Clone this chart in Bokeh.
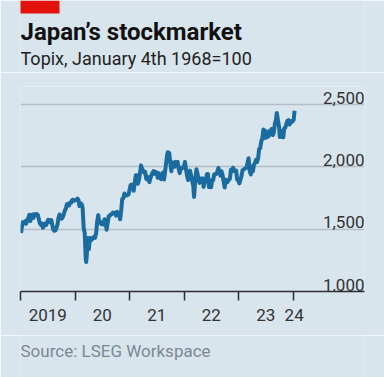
import numpy as np
import pandas as pd
from bokeh.plotting import figure
from bokeh.layouts import column
from bokeh.models import FixedTicker, CustomJSTickFormatter, Range1d
from bokeh.core.properties import value
from bokeh.embed import file_html
from bokeh.resources import INLINE

dates = [
    "2019-01-04", "2019-01-11", "2019-01-18", "2019-01-25", "2019-02-01", "2019-02-08", "2019-02-15", "2019-02-22",
    "2019-03-01", "2019-03-08", "2019-03-15", "2019-03-22", "2019-03-29", "2019-04-05", "2019-04-12", "2019-04-19",
    "2019-04-26", "2019-05-10", "2019-05-17", "2019-05-24", "2019-05-31", "2019-06-07", "2019-06-14", "2019-06-21",
    "2019-06-28", "2019-07-05", "2019-07-12", "2019-07-19", "2019-07-26", "2019-08-02", "2019-08-09", "2019-08-16",
    "2019-08-23", "2019-08-30", "2019-09-06", "2019-09-13", "2019-09-20", "2019-09-27", "2019-10-04", "2019-10-11",
    "2019-10-18", "2019-10-25", "2019-11-01", "2019-11-08", "2019-11-15", "2019-11-22", "2019-11-29", "2019-12-06",
    "2019-12-13", "2019-12-20", "2019-12-27",
    "2020-01-10", "2020-01-17", "2020-01-24", "2020-01-31", "2020-02-07", "2020-02-14", "2020-02-21", "2020-02-28",
    "2020-03-06", "2020-03-13", "2020-03-16", "2020-03-19", "2020-03-27", "2020-04-03", "2020-04-10", "2020-04-17",
    "2020-04-24", "2020-05-01", "2020-05-08", "2020-05-15", "2020-05-22", "2020-05-29", "2020-06-05", "2020-06-12",
    "2020-06-19", "2020-06-26", "2020-07-03", "2020-07-10", "2020-07-17", "2020-07-24", "2020-07-31", "2020-08-07",
    "2020-08-14", "2020-08-21", "2020-08-28", "2020-09-04", "2020-09-11", "2020-09-18", "2020-09-25", "2020-10-02",
    "2020-10-09", "2020-10-16", "2020-10-23", "2020-10-30", "2020-11-06", "2020-11-13", "2020-11-20", "2020-11-27",
    "2020-12-04", "2020-12-11", "2020-12-18", "2020-12-25",
    "2021-01-08", "2021-01-15", "2021-01-22", "2021-01-29", "2021-02-05", "2021-02-12", "2021-02-19", "2021-02-26",
    "2021-03-05", "2021-03-12", "2021-03-19", "2021-03-26", "2021-04-02", "2021-04-09", "2021-04-16", "2021-04-23",
    "2021-04-30", "2021-05-07", "2021-05-14", "2021-05-21", "2021-05-28", "2021-06-04", "2021-06-11", "2021-06-18",
    "2021-06-25", "2021-07-02", "2021-07-09", "2021-07-16", "2021-07-23", "2021-07-30", "2021-08-06", "2021-08-13",
    "2021-08-20", "2021-08-27", "2021-09-03", "2021-09-10", "2021-09-14", "2021-09-24", "2021-10-01", "2021-10-08",
    "2021-10-15", "2021-10-22", "2021-10-29", "2021-11-05", "2021-11-12", "2021-11-19", "2021-11-26", "2021-12-03",
    "2021-12-10", "2021-12-17", "2021-12-24", "2021-12-30",
    "2022-01-07", "2022-01-14", "2022-01-21", "2022-01-28", "2022-02-04", "2022-02-10", "2022-02-18", "2022-02-25",
    "2022-03-04", "2022-03-09", "2022-03-18", "2022-03-25", "2022-04-01", "2022-04-08", "2022-04-15", "2022-04-22",
    "2022-04-28", "2022-05-06", "2022-05-12", "2022-05-20", "2022-05-27", "2022-06-03", "2022-06-10", "2022-06-17",
    "2022-06-24", "2022-07-01", "2022-07-08", "2022-07-15", "2022-07-22", "2022-07-29", "2022-08-05", "2022-08-12",
    "2022-08-19", "2022-08-26", "2022-09-02", "2022-09-09", "2022-09-16", "2022-09-22", "2022-09-30", "2022-10-07",
    "2022-10-14", "2022-10-21", "2022-10-28", "2022-11-04", "2022-11-11", "2022-11-18", "2022-11-25", "2022-12-02",
    "2022-12-09", "2022-12-16", "2022-12-23", "2022-12-30",
    "2023-01-06", "2023-01-13", "2023-01-20", "2023-01-27", "2023-02-03", "2023-02-10", "2023-02-17", "2023-02-24",
    "2023-03-03", "2023-03-09", "2023-03-17", "2023-03-24", "2023-03-31", "2023-04-07", "2023-04-14", "2023-04-21",
    "2023-04-28", "2023-05-05", "2023-05-12", "2023-05-19", "2023-05-26", "2023-06-02", "2023-06-09", "2023-06-16",
    "2023-06-23", "2023-06-30", "2023-07-07", "2023-07-14", "2023-07-21", "2023-07-28", "2023-08-04", "2023-08-11",
    "2023-08-18", "2023-08-25", "2023-09-01", "2023-09-08", "2023-09-14", "2023-09-22", "2023-09-29", "2023-10-04",
    "2023-10-13", "2023-10-20", "2023-10-27", "2023-11-03", "2023-11-10", "2023-11-17", "2023-11-24", "2023-12-01",
    "2023-12-08", "2023-12-15", "2023-12-22", "2023-12-29",
    "2024-01-05", "2024-01-11",
]

topix = [
    1471, 1522, 1557, 1547, 1564, 1545, 1574, 1589,
    1616, 1565, 1602, 1617, 1591, 1621, 1616, 1622,
    1617, 1550, 1535, 1545, 1512, 1526, 1545, 1533,
    1551, 1575, 1574, 1557, 1574, 1533, 1496, 1487,
    1490, 1511, 1540, 1595, 1618, 1600, 1584, 1596,
    1621, 1650, 1666, 1702, 1696, 1690, 1714, 1713,
    1734, 1736, 1728,
    1735, 1745, 1735, 1685, 1708, 1703, 1674, 1511,
    1471, 1261, 1236, 1271, 1430, 1340, 1430, 1410,
    1419, 1432, 1441, 1431, 1470, 1563, 1613, 1553,
    1559, 1541, 1546, 1538, 1580, 1560, 1496, 1546,
    1604, 1606, 1618, 1620, 1634, 1630, 1631, 1609,
    1640, 1617, 1626, 1579, 1649, 1744, 1747, 1786,
    1772, 1770, 1776, 1777,
    1854, 1857, 1856, 1808, 1875, 1932, 1933, 1864,
    1896, 1951, 2012, 1984, 1971, 1954, 1960, 1904,
    1898, 1918, 1877, 1910, 1934, 1954, 1966, 1945,
    1961, 1952, 1913, 1949, 1929, 1901, 1935, 1954,
    1899, 1960, 2033, 2095, 2118, 2110, 2030, 1965,
    2038, 2003, 2001, 2040, 2033, 2040, 1984, 1950,
    1993, 1988, 1996, 1992,
    2040, 1982, 1930, 1895, 1929, 1970, 1925, 1886,
    1844, 1759, 1910, 1981, 1946, 1897, 1872, 1907,
    1899, 1907, 1839, 1883, 1888, 1941, 1943, 1838,
    1872, 1836, 1897, 1893, 1940, 1940, 1942, 1963,
    1991, 1968, 1930, 1965, 1935, 1890, 1835, 1897,
    1876, 1880, 1900, 1904, 1977, 1964, 1993, 1971,
    1964, 1970, 1897, 1892,
    1868, 1895, 1923, 1973, 1977, 1985, 1990, 1995,
    2038, 2069, 1964, 1939, 2003, 1964, 2018, 2030,
    2057, 2040, 2071, 2145, 2149, 2206, 2228, 2300,
    2231, 2289, 2235, 2253, 2245, 2290, 2280, 2304,
    2255, 2275, 2345, 2375, 2432, 2372, 2323, 2240,
    2290, 2240, 2238, 2310, 2314, 2345, 2370, 2375,
    2340, 2351, 2368, 2366,
    2378, 2450,
]

year_ticks = [2019, 2020, 2021, 2022, 2023, 2024]
year_label_pos = [2019.5, 2020.5, 2021.5, 2022.5, 2023.5, 2024.02]
year_labels = ["2019", "20", "21", "22", "23", "24"]
y_ticks = [1000, 1500, 2000, 2500]
y_labels = ["1,000", "1,500", "2,000", "2,500"]

title = "Japan\u2019s stockmarket"
subtitle = "Topix, January 4th 1968=100"
source = "Source: LSEG Workspace"

d = pd.to_datetime(dates)
days_in_year = np.where(d.is_leap_year, 366.0, 365.0)
xfrac = (d.year + (d.dayofyear - 1) / days_in_year).to_numpy(dtype=float)

BG = "#d9e5ed"
FONT = "Roboto"
W = 384
LB, RB = 20, 20
X_END = 2025.31


def panel(height):
    # frame spans canvas x 20..364; data x equals canvas x
    f = figure(width=W, height=height, output_backend="svg", toolbar_location=None,
               x_range=Range1d(LB, W - RB), y_range=Range1d(height, 0),
               min_border_left=LB, min_border_right=RB, min_border_top=0, min_border_bottom=0,
               background_fill_color=BG, border_fill_color=BG,
               outline_line_color=None, x_axis_location=None, y_axis_location=None)
    f.grid.visible = False
    return f


# header
H1 = 72
head = panel(H1)
head.quad(left=[19], right=[59], top=[0], bottom=[13], fill_color="#e3120b", line_color=None)
head.text(x=[20], y=[31.0], text=[title], text_font=value(FONT), text_font_style="bold",
          text_font_size="24px", text_color="#111111", text_baseline="middle")
head.text(x=[20], y=[58.0], text=[subtitle], text_font=value(FONT),
          text_font_size="18px", text_color="#222222", text_baseline="middle")

# main chart
p = figure(width=W, height=263, output_backend="svg", toolbar_location=None,
           x_range=Range1d(2019.0, X_END), y_range=Range1d(1000, 2645),
           min_border_left=LB, min_border_right=RB, min_border_top=14, min_border_bottom=44,
           background_fill_color=BG, border_fill_color=BG, outline_line_color=None,
           y_axis_location=None)

p.xgrid.visible = False
p.ygrid.ticker = FixedTicker(ticks=y_ticks[1:])
p.ygrid.grid_line_color = "#b3bec6"
p.ygrid.grid_line_width = 1.3

ax = p.xaxis[0]
ax.ticker = FixedTicker(ticks=year_label_pos, minor_ticks=year_ticks)
ax.formatter = CustomJSTickFormatter(args=dict(pos=year_label_pos, lab=year_labels), code="""
const i = pos.findIndex((v) => Math.abs(v - tick) < 1e-6);
return i >= 0 ? lab[i] : "";
""")
ax.major_tick_line_color = None
ax.major_tick_out = 0
ax.major_tick_in = 0
ax.minor_tick_line_color = "#2e2e2e"
ax.minor_tick_line_width = 1.5
ax.minor_tick_out = 9
ax.minor_tick_in = 0
ax.axis_line_color = "#2e2e2e"
ax.axis_line_width = 1.5
ax.major_label_text_font = FONT
ax.major_label_text_font_size = "17px"
ax.major_label_text_color = "#333333"
ax.major_label_standoff = 8

p.line(xfrac, topix, line_color="#1a6ba0", line_width=4, line_join="round")

p.text(x=[X_END] * len(y_ticks), y=y_ticks, text=y_labels, text_align="right", text_baseline="bottom",
       y_offset=-1, text_font=value(FONT), text_font_size="17px", text_color="#333333")

# footer
H3 = 42
foot = panel(H3)
foot.text(x=[20], y=[15.5], text=[source], text_font=value(FONT),
          text_font_size="17px", text_color="#7b8892", text_baseline="middle")

layout = column(head, p, foot, spacing=0)
open("out.html", "w").write(file_html(layout, INLINE))
